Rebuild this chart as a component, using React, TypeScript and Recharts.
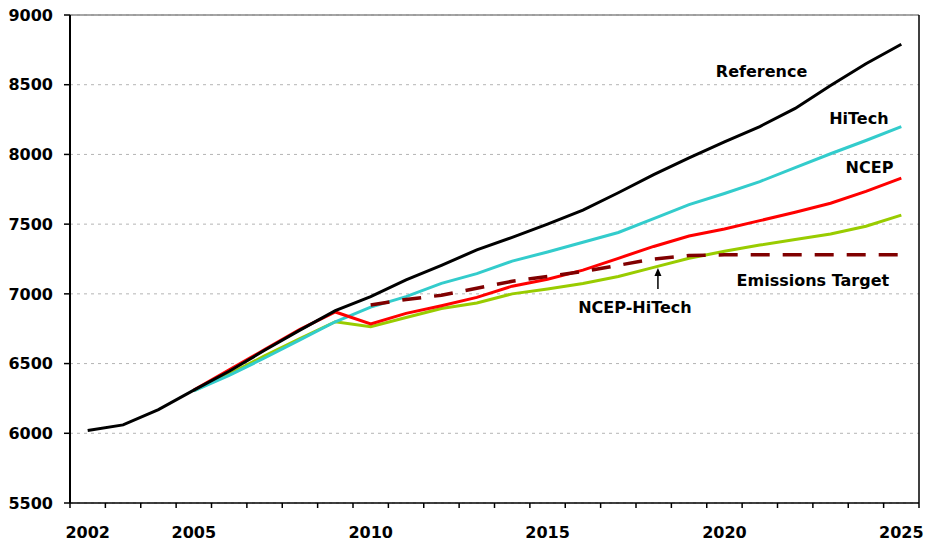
import React from 'react';
import { LineChart, Line, XAxis, YAxis, CartesianGrid, ReferenceLine, ReferenceDot } from 'recharts';

const years = [2002, 2003, 2004, 2005, 2006, 2007, 2008, 2009, 2010, 2011, 2012, 2013, 2014, 2015, 2016, 2017, 2018, 2019, 2020, 2021, 2022, 2023, 2024, 2025];
const reference = [6020, 6060, 6170, 6310, 6445, 6595, 6740, 6880, 6980, 7100, 7205, 7315, 7405, 7500, 7600, 7725, 7855, 7975, 8090, 8200, 8330, 8495, 8650, 8790];
const hiTech = [null, null, null, 6305, 6415, 6540, 6670, 6800, 6905, 6980, 7075, 7145, 7235, 7300, 7370, 7440, 7540, 7640, 7720, 7805, 7905, 8005, 8100, 8200];
const ncep = [null, null, null, 6310, 6455, 6600, 6745, 6870, 6785, 6860, 6915, 6975, 7055, 7105, 7170, 7255, 7340, 7415, 7465, 7525, 7585, 7650, 7735, 7830];
const ncepHiTech = [null, null, null, 6305, 6425, 6555, 6680, 6800, 6765, 6830, 6895, 6935, 7000, 7035, 7075, 7125, 7190, 7255, 7305, 7350, 7390, 7430, 7485, 7565];
const emissionsTarget = [null, null, null, null, null, null, null, null, 6920, 6960, 6990, 7040, 7090, 7125, 7160, 7205, 7250, 7275, 7280, 7280, 7280, 7280, 7280, 7280];

const labelYears = [2002, 2005, 2010, 2015, 2020, 2025];
const yTicks = [5500, 6000, 6500, 7000, 7500, 8000, 8500, 9000];

const data = years.map((year, i) => ({
  year,
  reference: reference[i],
  hiTech: hiTech[i],
  ncep: ncep[i],
  ncepHiTech: ncepHiTech[i],
  emissionsTarget: emissionsTarget[i],
}));

const boundaryTicks: number[] = [];
for (let i = 0; i <= years.length; i++) boundaryTicks.push(years[0] - 0.5 + i);
const xTicks = [...boundaryTicks, ...labelYears].sort((a, b) => a - b);

const FONT = '"DejaVu Sans", Arial, sans-serif';

const XTick = (props: any) => {
  const { x, y, payload } = props;
  const v = payload.value;
  const axisY = y - 8;
  if (Math.abs(v % 1) > 0.1) {
    return <line x1={x} x2={x} y1={axisY} y2={axisY + 5} stroke="#000" strokeWidth={1.5} />;
  }
  if (labelYears.includes(v)) {
    return (
      <text x={x} y={axisY + 29} textAnchor="middle" dominantBaseline="central" fontSize={16} fontWeight="bold" fill="#000" fontFamily={FONT}>
        {v}
      </text>
    );
  }
  return <g />;
};

const ArrowShape = (props: any) => {
  const { x1, y1, x2, y2 } = props;
  const tipY = Math.min(y1, y2);
  const tailY = Math.max(y1, y2);
  return (
    <g>
      <line x1={x1} x2={x2} y1={tailY} y2={tipY + 6} stroke="#000" strokeWidth={1.5} />
      <polygon points={`${x1},${tipY} ${x1 - 3.5},${tipY + 8} ${x1 + 3.5},${tipY + 8}`} fill="#000" />
    </g>
  );
};

const labelStyle = { fontSize: 16, fontWeight: 'bold', fill: '#000', fontFamily: FONT };

export default function App() {
  return (
    <div style={{ position: 'absolute', left: 0, top: 0, width: 927, height: 545 }}>
      <LineChart width={927} height={545} data={data} margin={{ top: 15, right: 8, bottom: 0, left: 0 }}>
        <CartesianGrid vertical={false} strokeDasharray="3 4" stroke="#b4b4b4" />
        <XAxis
          type="number"
          dataKey="year"
          domain={[2001.5, 2025.5]}
          ticks={xTicks}
          interval={0}
          tickLine={false}
          tickSize={6}
          tickMargin={2}
          tick={<XTick />}
          height={42}
          axisLine={{ stroke: '#000', strokeWidth: 1.5 }}
          allowDataOverflow
        />
        <YAxis
          type="number"
          domain={[5500, 9000]}
          ticks={yTicks}
          interval={0}
          width={70}
          tickSize={6}
          tickMargin={11}
          axisLine={{ stroke: '#000', strokeWidth: 2 }}
          tickLine={{ stroke: '#000', strokeWidth: 1.5 }}
          tick={{ fontSize: 16, fontWeight: 'bold', fill: '#000', fontFamily: FONT }}
          allowDataOverflow
        />
        <ReferenceLine y={9000} stroke="#888" strokeWidth={1.5} />
        <ReferenceLine x={2025.5} stroke="#000" strokeWidth={1.5} />
        <Line dataKey="ncepHiTech" type="linear" stroke="#99CC00" strokeWidth={3} dot={false} isAnimationActive={false} />
        <Line dataKey="hiTech" type="linear" stroke="#33CCCC" strokeWidth={3} dot={false} isAnimationActive={false} />
        <Line dataKey="ncep" type="linear" stroke="#FF0000" strokeWidth={3} dot={false} isAnimationActive={false} />
        <Line dataKey="emissionsTarget" type="linear" stroke="#800000" strokeWidth={3.5} strokeDasharray="19 13" dot={false} isAnimationActive={false} />
        <Line dataKey="reference" type="linear" stroke="#000000" strokeWidth={3} dot={false} isAnimationActive={false} />
        <ReferenceLine segment={[{ x: 2018.12, y: 7035 }, { x: 2018.12, y: 7186 }]} shape={<ArrowShape />} />
        <ReferenceDot x={2021.05} y={8599} r={0} stroke="none" fill="none" label={{ value: 'Reference', position: 'center', ...labelStyle }} />
        <ReferenceDot x={2023.8} y={8262} r={0} stroke="none" fill="none" label={{ value: 'HiTech', position: 'center', ...labelStyle }} />
        <ReferenceDot x={2024.1} y={7910} r={0} stroke="none" fill="none" label={{ value: 'NCEP', position: 'center', ...labelStyle }} />
        <ReferenceDot x={2022.5} y={7100} r={0} stroke="none" fill="none" label={{ value: 'Emissions Target', position: 'center', ...labelStyle }} />
        <ReferenceDot x={2017.47} y={6906} r={0} stroke="none" fill="none" label={{ value: 'NCEP-HiTech', position: 'center', ...labelStyle }} />
      </LineChart>
    </div>
  );
}
